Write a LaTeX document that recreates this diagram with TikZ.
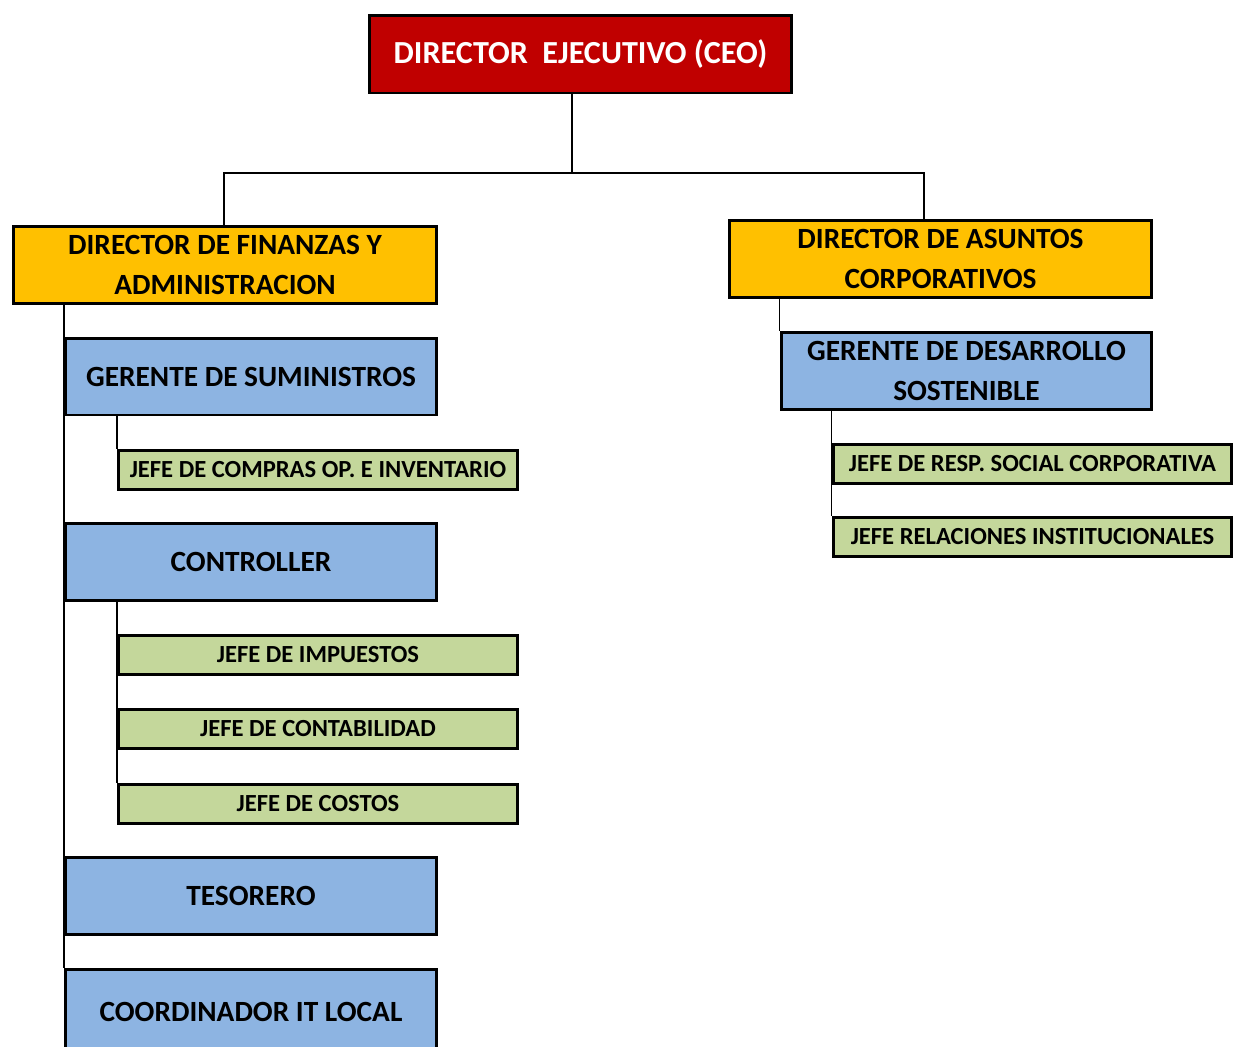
\documentclass[tikz,border=0pt]{standalone}
\usepackage{fontspec}
\setmainfont{Carlito}
\usepackage{tikz}
\definecolor{ceored}{HTML}{C00000}
\definecolor{dirgold}{HTML}{FFC000}
\definecolor{gerblue}{HTML}{8DB4E2}
\definecolor{jefegreen}{HTML}{C4D79B}

\begin{document}
\begin{tikzpicture}[x=0.02cm, y=-0.02cm,
		box/.style={draw=black, line width=1.7pt, inner sep=0pt, align=center, font=\bfseries\fontsize{16.7}{22.7}\selectfont},
		ceobox/.style={box, fill=ceored, text=white, minimum width=8.44cm, minimum height=1.56cm, font=\bfseries\fontsize{18.3}{22}\selectfont},
		dirbox/.style={box, fill=dirgold, minimum width=8.46cm, minimum height=1.54cm},
		gerbox/.style={box, fill=gerblue, minimum width=7.42cm, minimum height=1.54cm},
		jefebox/.style={box, fill=jefegreen, minimum width=7.98cm, minimum height=0.78cm, font=\bfseries\fontsize{14}{16}\selectfont},
		link/.style={draw=black, line width=0.85pt}]
			%%%%% START %%%%%
			
			\clip (0, 0) rectangle (1234, 1046);
			
			\node[ceobox] (ceo) at (580.5, 54) {DIRECTOR~ EJECUTIVO (CEO)};
			
			\node[dirbox] (finanzas) at (225, 265) {DIRECTOR DE FINANZAS Y\\ADMINISTRACION};
			\node[dirbox] (asuntos) at (940.5, 259) {DIRECTOR DE ASUNTOS\\CORPORATIVOS};
			
			\node[gerbox] (suministros) at (251, 376.5) {GERENTE DE SUMINISTROS};
			\node[jefebox] (compras) at (318, 469.5) {JEFE DE COMPRAS OP. E INVENTARIO};
			
			\node[gerbox] (controller) at (251, 562) {CONTROLLER};
			\node[jefebox] (impuestos) at (318, 655) {JEFE DE IMPUESTOS};
			\node[jefebox] (contabilidad) at (318, 729) {JEFE DE CONTABILIDAD};
			\node[jefebox] (costos) at (318, 803.5) {JEFE DE COSTOS};
			
			\node[gerbox] (tesorero) at (251, 896) {TESORERO};
			\node[gerbox, minimum height=1.72cm] (coordinador) at (251, 1012) {COORDINADOR IT LOCAL};
			
			\node[gerbox] (desarrollo) at (966.5, 371) {GERENTE DE DESARROLLO\\SOSTENIBLE};
			\node[jefebox] (resp) at (1032.5, 464) {JEFE DE RESP. SOCIAL CORPORATIVA};
			\node[jefebox] (relaciones) at (1032.5, 536.5) {JEFE RELACIONES INSTITUCIONALES};
			
			% top fork
			\coordinate (fork) at (572, 173);
			\coordinate (lfork) at (224, 173);
			\coordinate (rfork) at (924, 173);
			\draw[link] (ceo.south -| fork) -- (fork);
			\draw[link] (lfork |- finanzas.north) -- (lfork) -- (rfork) -- (rfork |- asuntos.north);
			
			% left branch
			\draw[link] (finanzas.south -| coordinador.west) -- (coordinador.north west);
			\draw[link] (suministros.south -| compras.west) -- (compras.north west);
			\draw[link] (controller.south -| costos.west) -- (costos.north west);
			
			% right branch
			\draw[link] (asuntos.south -| desarrollo.west) -- (desarrollo.north west);
			\draw[link] (desarrollo.south -| relaciones.west) -- (relaciones.north west);
			
			%%%%% END %%%%%
\end{tikzpicture}
\end{document}
